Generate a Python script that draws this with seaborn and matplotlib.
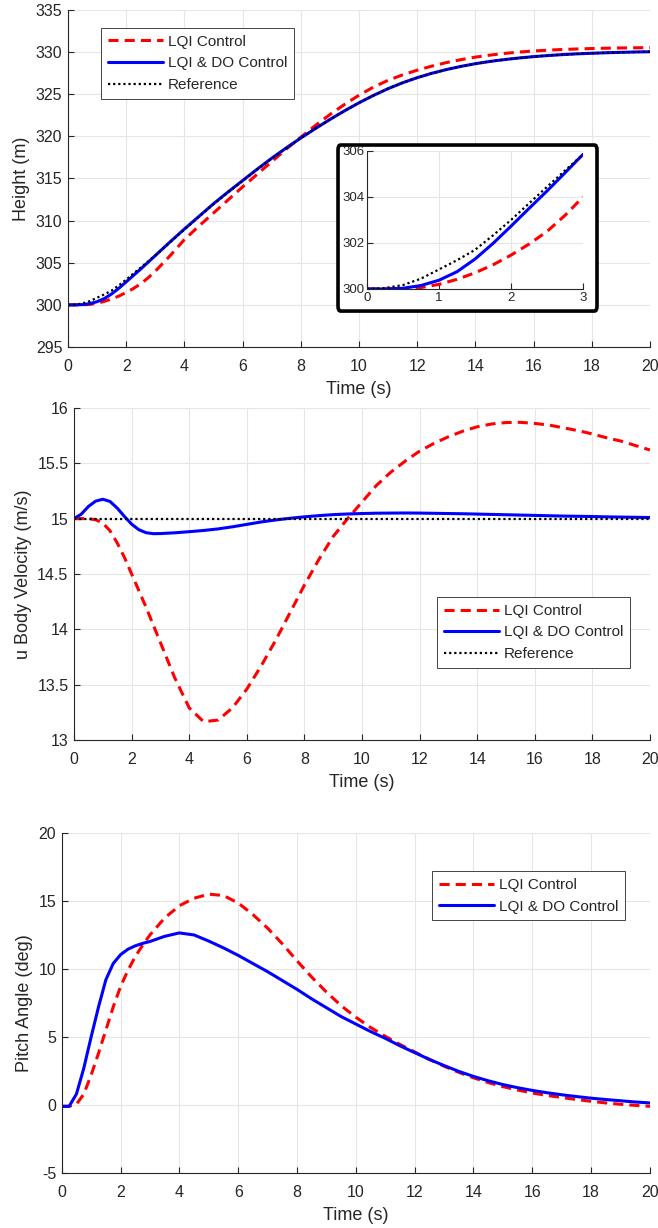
import matplotlib
matplotlib.use("Agg")
import matplotlib.pyplot as plt
import seaborn as sns
from matplotlib.patches import FancyBboxPatch

# time grids (fine near start, 0.5 s afterwards)
t_fine = [0.0, 0.25, 0.5, 0.75, 1.0, 1.25, 1.5, 1.75, 2.0, 2.25, 2.5, 2.75, 3.0]
t_coarse = [3.5, 4.0, 4.5, 5.0, 5.5, 6.0, 6.5, 7.0, 7.5, 8.0, 8.5, 9.0, 9.5, 10.0,
            10.5, 11.0, 11.5, 12.0, 12.5, 13.0, 13.5, 14.0, 14.5, 15.0, 15.5, 16.0,
            16.5, 17.0, 17.5, 18.0, 18.5, 19.0, 19.5, 20.0]
time = t_fine + t_coarse

# height (m)
height_ref = [300.0, 300.04, 300.17, 300.45, 300.85, 301.25, 301.7, 302.33, 303.0, 303.72, 304.44, 305.15, 305.85,
              307.4, 308.95, 310.45, 311.95, 313.35, 314.7, 316.05, 317.35, 318.6, 319.8, 320.92, 322.0, 323.02, 323.98,
              324.86, 325.66, 326.36, 326.96, 327.48, 327.92, 328.3, 328.62, 328.89, 329.11, 329.3, 329.46,
              329.59, 329.7, 329.79, 329.86, 329.92, 329.97, 330.01, 330.04]
height_do = [300.0, 300.0, 300.03, 300.15, 300.38, 300.75, 301.3, 301.98, 302.73, 303.5, 304.26, 305.05, 305.85,
             307.45, 309.0, 310.5, 312.0, 313.4, 314.75, 316.1, 317.4, 318.63, 319.8, 320.92, 322.0, 323.02, 323.98,
             324.86, 325.66, 326.36, 326.96, 327.48, 327.92, 328.3, 328.62, 328.89, 329.11, 329.3, 329.46,
             329.59, 329.7, 329.79, 329.86, 329.92, 329.97, 330.01, 330.04]
height_lqi = [300.0, 300.0, 300.0, 300.06, 300.2, 300.42, 300.7, 301.05, 301.47, 301.95, 302.5, 303.2, 304.0,
              305.8, 307.75, 309.35, 310.9, 312.45, 314.0, 315.5, 317.0, 318.48, 319.9, 321.28, 322.58, 323.78, 324.88,
              325.85, 326.65, 327.3, 327.85, 328.33, 328.75, 329.1, 329.4, 329.64, 329.84, 330.0, 330.13,
              330.23, 330.31, 330.37, 330.42, 330.46, 330.49, 330.51, 330.53]

# u body velocity (m/s)
u_ref = [15.0] * len(time)
u_do = [15.0, 15.04, 15.11, 15.158, 15.175, 15.155, 15.095, 15.02, 14.95, 14.9, 14.873, 14.864, 14.865,
        14.872, 14.882, 14.893, 14.907, 14.926, 14.948, 14.97, 14.988, 15.003, 15.016, 15.027, 15.036, 15.042, 15.046,
        15.049, 15.05, 15.051, 15.05, 15.048, 15.046, 15.044, 15.041, 15.038, 15.035, 15.032, 15.029,
        15.026, 15.023, 15.021, 15.019, 15.016, 15.014, 15.012, 15.01]
u_lqi = [15.0, 15.0, 15.0, 14.99, 14.96, 14.89, 14.78, 14.65, 14.5, 14.35, 14.2, 14.04, 13.88,
         13.56, 13.29, 13.165, 13.18, 13.29, 13.46, 13.67, 13.9, 14.15, 14.4, 14.63, 14.84, 15.0, 15.15,
         15.3, 15.42, 15.52, 15.61, 15.68, 15.74, 15.79, 15.83, 15.855, 15.868, 15.87, 15.86,
         15.845, 15.82, 15.795, 15.765, 15.73, 15.7, 15.66, 15.62]

# pitch angle (deg)
pitch_do = [-0.1, -0.1, 0.8, 2.7, 5.0, 7.2, 9.2, 10.4, 11.05, 11.45, 11.7, 11.88, 12.02,
            12.4, 12.65, 12.5, 12.05, 11.55, 11.0, 10.4, 9.8, 9.15, 8.5, 7.8, 7.15, 6.5, 5.95,
            5.4, 4.9, 4.35, 3.85, 3.35, 2.9, 2.47, 2.1, 1.78, 1.5, 1.27, 1.07,
            0.9, 0.75, 0.62, 0.5, 0.4, 0.31, 0.22, 0.15]
pitch_lqi = [-0.1, -0.1, 0.05, 0.8, 2.2, 3.8, 5.5, 7.2, 8.7, 9.9, 10.9, 11.75, 12.5,
             13.75, 14.65, 15.2, 15.5, 15.4, 14.85, 14.0, 13.0, 11.85, 10.6, 9.4, 8.3, 7.3, 6.45,
             5.7, 5.05, 4.45, 3.9, 3.35, 2.85, 2.4, 2.0, 1.65, 1.35, 1.1, 0.88,
             0.7, 0.55, 0.4, 0.27, 0.15, 0.05, -0.03, -0.1]

series_labels = ["LQI Control", "LQI & DO Control", "Reference"]

sns.set_theme(style="whitegrid")
plt.rcParams['font.family'] = ['Liberation Sans', 'DejaVu Sans']
plt.rcParams['axes.unicode_minus'] = False

DARK = "#262626"
GRID = "#e6e6e6"
RED_LS = (0, (3.3, 2.0))
DOT_LS = (0, (1.0, 1.3))

fig = plt.figure(figsize=(6.58, 12.28), dpi=100)
ax1 = fig.add_axes([0.1033, 0.7174, 0.8845, 0.2745])
ax2 = fig.add_axes([0.1125, 0.3974, 0.8754, 0.2704])
ax3 = fig.add_axes([0.0938, 0.0448, 0.8940, 0.2769])


def style_axes(ax, fs=11.5, xpad=8.5, ypad=4):
    ax.set_facecolor("white")
    ax.grid(True, color=GRID, linewidth=0.8)
    for side in ["top", "right"]:
        ax.spines[side].set_visible(False)
    for side in ["left", "bottom"]:
        ax.spines[side].set_color(DARK)
        ax.spines[side].set_linewidth(0.8)
    ax.tick_params(direction="in", length=4, width=0.8, colors=DARK, labelsize=fs,
                   left=True, bottom=True)
    ax.tick_params(axis="x", pad=xpad)
    ax.tick_params(axis="y", pad=ypad)


def add_legend(ax, anchor, n):
    handles = ax.get_lines()[:n]
    leg = ax.legend(handles, series_labels[:n], loc="upper left", bbox_to_anchor=anchor,
                    fancybox=False, framealpha=1, edgecolor=DARK, fontsize=11,
                    handlelength=3.6, handletextpad=0.35, labelspacing=0.5,
                    borderpad=0.45, borderaxespad=0)
    leg.get_frame().set_linewidth(0.6)
    for txt in leg.get_texts():
        txt.set_color(DARK)


# panel 1: height
sns.lineplot(x=time, y=height_lqi, ax=ax1, color="red", linestyle=RED_LS, linewidth=2.2)
sns.lineplot(x=time, y=height_do, ax=ax1, color="blue", linewidth=2.2)
sns.lineplot(x=time, y=height_ref, ax=ax1, color="black", linestyle=DOT_LS, linewidth=1.6)
ax1.set_xlim(0, 20)
ax1.set_ylim(295, 335)
ax1.set_xticks(range(0, 21, 2))
ax1.set_yticks(range(295, 336, 5))
style_axes(ax1)
ax1.set_xlabel("Time (s)", fontsize=13, color=DARK, labelpad=5)
ax1.set_ylabel("Height (m)", fontsize=13, color=DARK)
add_legend(ax1, (0.0567, 0.947), 3)

# inset zoom of the first three seconds
frame = FancyBboxPatch((0.5137, 0.7467), 0.3936, 0.1352,
                       boxstyle="round,pad=0,rounding_size=0.004",
                       transform=fig.transFigure, facecolor="white",
                       edgecolor="black", linewidth=2.6, zorder=1)
fig.add_artist(frame)
axin = fig.add_axes([0.5578, 0.7647, 0.3283, 0.1124], zorder=2)
sns.lineplot(x=t_fine, y=height_lqi[:len(t_fine)], ax=axin, color="red", linestyle=RED_LS, linewidth=2.2)
sns.lineplot(x=t_fine, y=height_do[:len(t_fine)], ax=axin, color="blue", linewidth=2.2)
sns.lineplot(x=t_fine, y=height_ref[:len(t_fine)], ax=axin, color="black", linestyle=DOT_LS, linewidth=1.6)
axin.set_xlim(0, 3)
axin.set_ylim(300, 306)
axin.set_xticks([0, 1, 2, 3])
axin.set_yticks([300, 302, 304, 306])
style_axes(axin, fs=9.5, xpad=2, ypad=2)
axin.set_xlabel("")
axin.set_ylabel("")

# panel 2: u body velocity
sns.lineplot(x=time, y=u_lqi, ax=ax2, color="red", linestyle=RED_LS, linewidth=2.2)
sns.lineplot(x=time, y=u_do, ax=ax2, color="blue", linewidth=2.2)
sns.lineplot(x=time, y=u_ref, ax=ax2, color="black", linestyle=DOT_LS, linewidth=1.6)
ax2.set_xlim(0, 20)
ax2.set_ylim(13, 16)
ax2.set_xticks(range(0, 21, 2))
ax2.set_yticks([13, 13.5, 14, 14.5, 15, 15.5, 16])
ax2.set_yticklabels(["13", "13.5", "14", "14.5", "15", "15.5", "16"])
style_axes(ax2)
ax2.set_xlabel("Time (s)", fontsize=13, color=DARK, labelpad=5)
ax2.set_ylabel("u Body Velocity (m/s)", fontsize=13, color=DARK)
add_legend(ax2, (0.630, 0.4307), 3)

# panel 3: pitch angle
sns.lineplot(x=time, y=pitch_lqi, ax=ax3, color="red", linestyle=RED_LS, linewidth=2.2)
sns.lineplot(x=time, y=pitch_do, ax=ax3, color="blue", linewidth=2.2)
ax3.set_xlim(0, 20)
ax3.set_ylim(-5, 20)
ax3.set_xticks(range(0, 21, 2))
ax3.set_yticks(range(-5, 21, 5))
style_axes(ax3)
ax3.set_xlabel("Time (s)", fontsize=13, color=DARK, labelpad=5)
ax3.set_ylabel("Pitch Angle (deg)", fontsize=13, color=DARK)
add_legend(ax3, (0.629, 0.888), 2)

fig.savefig("out.png", dpi=100)
